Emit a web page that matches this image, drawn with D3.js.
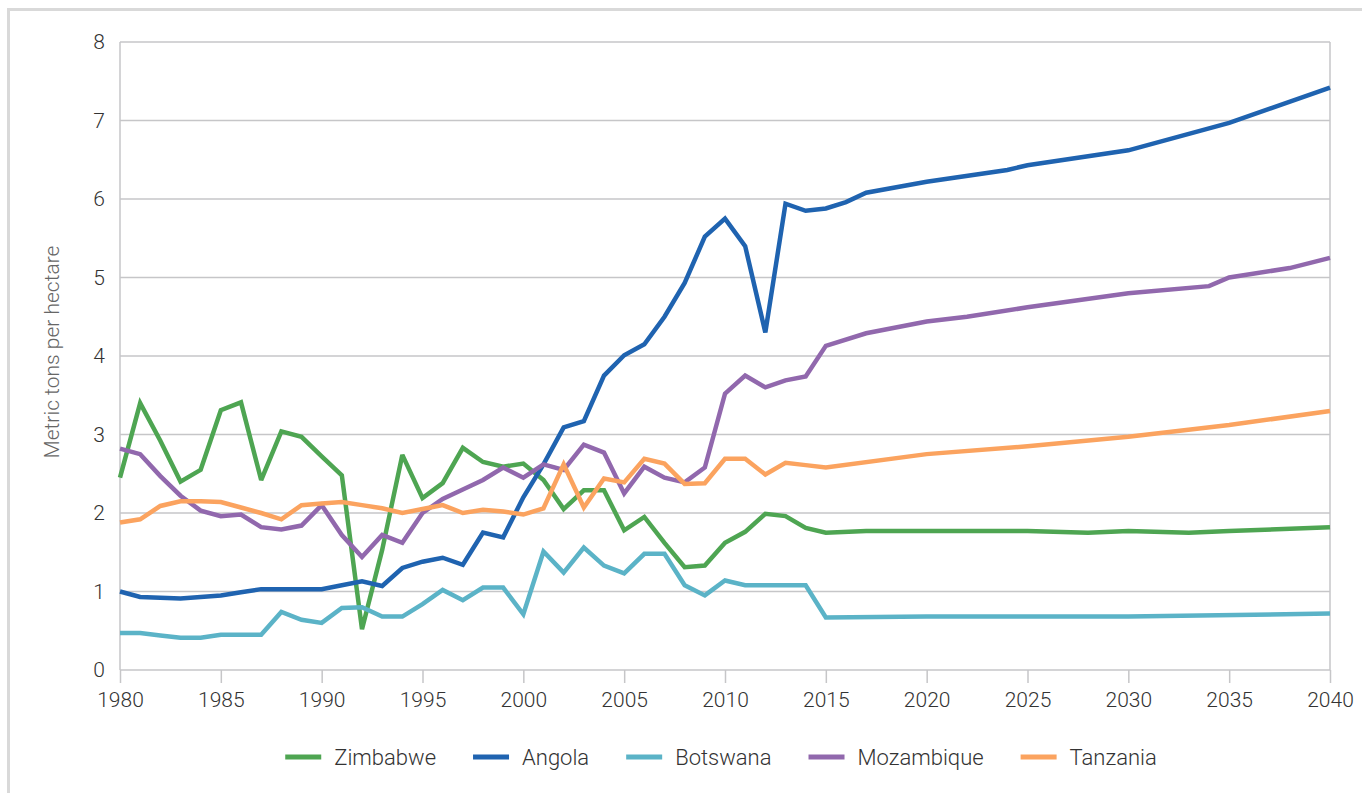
<!DOCTYPE html>
<html>
<head>
<meta charset="utf-8">
<style>
  body{
    margin: 0;
    background: #fff;
    font-family: 'Roboto', 'Liberation Sans', sans-serif;
  }
  svg text { font-weight: 300; }
</style>
</head>
<body>
<svg id="chart"></svg>

<script src="https://cdn.jsdelivr.net/npm/d3@7/dist/d3.min.js"></script>
<script>

// historical years, shared by all series
var histYears = d3.range(1980, 2016);

var zimbabweHist = [2.45, 3.4, 2.92, 2.4, 2.55, 3.31, 3.41, 2.42, 3.04, 2.97, 2.72, 2.48, 0.52, 1.53, 2.74, 2.19, 2.38, 2.83, 2.65, 2.59, 2.63, 2.42, 2.05, 2.29, 2.29, 1.78, 1.95, 1.62, 1.31, 1.33, 1.62, 1.76, 1.99, 1.96, 1.81, 1.75];
var angolaHist = [1.0, 0.93, 0.92, 0.91, 0.93, 0.95, 0.99, 1.03, 1.03, 1.03, 1.03, 1.08, 1.13, 1.07, 1.3, 1.38, 1.43, 1.34, 1.75, 1.69, 2.2, 2.62, 3.09, 3.17, 3.75, 4.01, 4.15, 4.5, 4.93, 5.52, 5.75, 5.4, 4.3, 5.94, 5.85, 5.88];
var botswanaHist = [0.47, 0.47, 0.44, 0.41, 0.41, 0.45, 0.45, 0.45, 0.74, 0.64, 0.6, 0.79, 0.8, 0.68, 0.68, 0.84, 1.02, 0.89, 1.05, 1.05, 0.71, 1.51, 1.24, 1.56, 1.33, 1.23, 1.48, 1.48, 1.08, 0.95, 1.14, 1.08, 1.08, 1.08, 1.08, 0.67];
var mozambiqueHist = [2.82, 2.75, 2.47, 2.22, 2.03, 1.96, 1.98, 1.82, 1.79, 1.84, 2.1, 1.72, 1.44, 1.72, 1.62, 2.0, 2.18, 2.3, 2.42, 2.58, 2.45, 2.62, 2.55, 2.87, 2.77, 2.25, 2.59, 2.45, 2.39, 2.58, 3.52, 3.75, 3.6, 3.69, 3.74, 4.13];
var tanzaniaHist = [1.88, 1.92, 2.09, 2.15, 2.15, 2.14, 2.07, 2.0, 1.92, 2.1, 2.12, 2.14, 2.1, 2.06, 2.0, 2.05, 2.1, 2.0, 2.04, 2.02, 1.98, 2.06, 2.62, 2.07, 2.44, 2.39, 2.69, 2.63, 2.37, 2.38, 2.69, 2.69, 2.49, 2.64, 2.61, 2.58];

// projections (only the years where the line bends)
var zimbabweProjYears = [2017, 2020, 2025, 2028, 2030, 2033, 2035, 2040];
var zimbabweProj = [1.77, 1.77, 1.77, 1.75, 1.77, 1.75, 1.77, 1.82];
var angolaProjYears = [2016, 2017, 2020, 2024, 2025, 2030, 2035, 2040];
var angolaProj = [5.96, 6.08, 6.22, 6.37, 6.43, 6.62, 6.97, 7.42];
var botswanaProjYears = [2020, 2030, 2040];
var botswanaProj = [0.68, 0.68, 0.72];
var mozambiqueProjYears = [2017, 2020, 2022, 2025, 2030, 2034, 2035, 2038, 2040];
var mozambiqueProj = [4.29, 4.44, 4.5, 4.62, 4.8, 4.89, 5.0, 5.12, 5.25];
var tanzaniaProjYears = [2020, 2025, 2030, 2035, 2040];
var tanzaniaProj = [2.75, 2.85, 2.97, 3.12, 3.3];

var seriesNames = ['Zimbabwe', 'Angola', 'Botswana', 'Mozambique', 'Tanzania'];
var seriesColors = ['#4ea552', '#1f63b0', '#5bb3c7', '#9168ad', '#fba35f'];

var xTicks = d3.range(1980, 2041, 5);
var yTicks = d3.range(0, 9, 1);

function buildSeries(hist, projYears, proj) {
  var pts = histYears.map(function(y, i) { return {year: y, value: hist[i]}; });
  projYears.forEach(function(y, i) { pts.push({year: y, value: proj[i]}); });
  return pts;
}

var allSeries = [
  buildSeries(zimbabweHist, zimbabweProjYears, zimbabweProj),
  buildSeries(angolaHist, angolaProjYears, angolaProj),
  buildSeries(botswanaHist, botswanaProjYears, botswanaProj),
  buildSeries(mozambiqueHist, mozambiqueProjYears, mozambiqueProj),
  buildSeries(tanzaniaHist, tanzaniaProjYears, tanzaniaProj)
];

var fullWidth = 1362, fullHeight = 793;
var margin = {top: 42, right: 32, bottom: 123, left: 120},
    width = fullWidth - margin.left - margin.right,
    height = fullHeight - margin.top - margin.bottom;

var root = d3.select('#chart')
    .attr('width', fullWidth)
    .attr('height', fullHeight);

// outer frame
root.append('rect')
    .attr('x', 8.5).attr('y', 9.5)
    .attr('width', 1400).attr('height', 900)
    .attr('fill', 'none')
    .attr('stroke', '#d9d9d9')
    .attr('stroke-width', 3);

var svg = root.append('g')
    .attr('transform', 'translate(' + margin.left + ',' + margin.top + ')');

var x = d3.scaleLinear().domain([1980, 2040]).range([0, width]);
var y = d3.scaleLinear().domain([0, 8]).range([height, 0]);

// gridlines
svg.append('g')
  .selectAll('line')
  .data(yTicks)
  .enter().append('line')
    .attr('x1', 0).attr('x2', width)
    .attr('y1', function(d) { return y(d); })
    .attr('y2', function(d) { return y(d); })
    .attr('stroke', '#c6c6c8')
    .attr('stroke-width', 1.5);

// plot frame sides
svg.append('line')
    .attr('x1', 0).attr('x2', 0).attr('y1', 0).attr('y2', height)
    .attr('stroke', '#c6c6c8').attr('stroke-width', 1.5);
svg.append('line')
    .attr('x1', width).attr('x2', width).attr('y1', 0).attr('y2', height)
    .attr('stroke', '#c6c6c8').attr('stroke-width', 1.5);

// x axis
var xAxis = svg.append('g')
    .attr('transform', 'translate(0,' + height + ')')
    .call(d3.axisBottom(x).tickValues(xTicks).tickFormat(d3.format('d')).tickSize(13).tickPadding(9));
xAxis.select('.domain').remove();
xAxis.selectAll('.tick line').attr('stroke', '#c6c6c8').attr('stroke-width', 1.5);
xAxis.selectAll('.tick text')
    .attr('fill', '#333')
    .style('font-size', '21px')
    .style('font-family', "'Roboto', 'Liberation Sans', sans-serif");

// y axis
var yAxis = svg.append('g')
    .call(d3.axisLeft(y).tickValues(yTicks).tickSize(0).tickPadding(15));
yAxis.select('.domain').remove();
yAxis.selectAll('.tick text')
    .attr('fill', '#333')
    .style('font-size', '21px')
    .style('font-family', "'Roboto', 'Liberation Sans', sans-serif");

// y title
root.append('text')
    .attr('transform', 'translate(59,' + 352 + ') rotate(-90)')
    .attr('text-anchor', 'middle')
    .attr('fill', '#666')
    .style('font-size', '21px')
    .text('Metric tons per hectare');

// lines
var line = d3.line()
    .x(function(d) { return x(d.year); })
    .y(function(d) { return y(d.value); });

svg.append('g')
  .selectAll('path')
  .data(allSeries)
  .enter().append('path')
    .attr('d', line)
    .attr('fill', 'none')
    .attr('stroke', function(d, i) { return seriesColors[i]; })
    .attr('stroke-width', 4.5)
    .attr('stroke-linejoin', 'miter')
    .attr('stroke-miterlimit', 3);

// legend
var legend = root.append('g');
var swatchW = 36, swatchGap = 13, itemGap = 37;
var items = legend.selectAll('g')
  .data(seriesNames)
  .enter().append('g');

items.append('line')
    .attr('x1', 0).attr('x2', swatchW)
    .attr('y1', 0).attr('y2', 0)
    .attr('stroke', function(d, i) { return seriesColors[i]; })
    .attr('stroke-width', 5);

items.append('text')
    .attr('x', swatchW + swatchGap)
    .attr('y', 0)
    .attr('dy', '0.35em')
    .attr('fill', '#333')
    .style('font-size', '22px')
    .text(function(d) { return d; });

var offsets = [], cursor = 0;
items.each(function() {
  offsets.push(cursor);
  var w = d3.select(this).select('text').node().getComputedTextLength();
  cursor += swatchW + swatchGap + w + itemGap;
});
var total = cursor - itemGap;
var startX = margin.left + width / 2 - total / 2 - 4;
items.attr('transform', function(d, i) { return 'translate(' + (startX + offsets[i]) + ',757)'; });

</script>
</body>
</html>
